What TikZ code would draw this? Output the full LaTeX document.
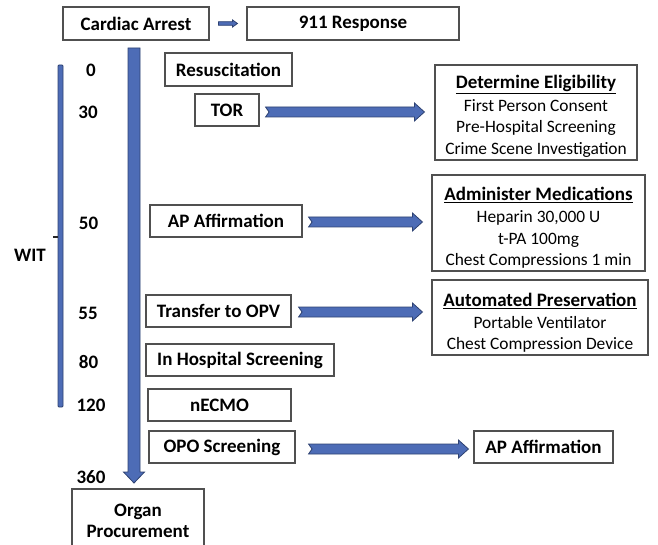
\documentclass[tikz,border=0pt]{standalone}
\usepackage{fontspec}
\setmainfont{Carlito}
\usetikzlibrary{calc}
\definecolor{arrowblue}{HTML}{4D6CB6}
\definecolor{arrowedge}{HTML}{2E4272}
\definecolor{boxedge}{HTML}{505050}
\tikzset{
  box/.style={draw=boxedge, line width=1.1pt, fill=white, inner sep=0pt,
    font=\bfseries\fontsize{19}{21}\selectfont, text=black},
  infobox/.style={draw=boxedge, line width=1.1pt, fill=white, inner sep=0pt,
    align=center, font=\fontsize{17.4}{21.3}\selectfont, text=black},
  num/.style={font=\bfseries\fontsize{19}{21}\selectfont, inner sep=0pt},
  blk/.style={fill=arrowblue, draw=arrowedge, line width=0.8pt, line join=miter}
}
% horizontal block arrow: start, end, shaft half, head half, head length, notch
\newcommand\hblock[6]{%
  \draw[blk] let \p1=#1, \p2=#2 in
   (\x1,\y1+#3) -- (\x2-#5,\y1+#3) -- (\x2-#5,\y1+#4) -- (\x2,\y1)
   -- (\x2-#5,\y1-#4) -- (\x2-#5,\y1-#3) -- (\x1,\y1-#3) -- (\x1+#6,\y1) -- cycle;}
\newcommand\ttl[2]{\rule{0pt}{#1}{\bfseries\fontsize{19}{21.3}\selectfont\underline{#2}}}
\begin{document}
\begin{tikzpicture}[x=1pt,y=-1pt]
\clip (0,0) rectangle (658,545);
\useasboundingbox (0,0) rectangle (658,545);
\fill[white] (0,0) rectangle (658,545);

% top boxes
\node[box, minimum width=146pt, minimum height=33pt] (ca) at (136,23.5) {Cardiac Arrest};
\node[box, minimum width=212pt, minimum height=33pt] (r911) at (353,23.5) {911 Response};

% timeline boxes
\node[box, minimum width=127pt, minimum height=33pt] (resus) at (228.5,69.5) {Resuscitation};
\node[box, minimum width=64pt, minimum height=32pt] (tor) at (227,110) {TOR};
\node[box, minimum width=152pt, minimum height=32pt] (apl) at (226,221) {AP Affirmation};
\node[box, minimum width=145pt, minimum height=32pt] (opv) at (218.5,311) {Transfer to OPV};
\node[box, minimum width=188pt, minimum height=32pt] (ihs) at (240,360) {In Hospital Screening};
\node[box, minimum width=143pt, minimum height=32pt] (necmo) at (219.5,405) {nECMO};
\node[box, minimum width=146pt, minimum height=32pt] (opo) at (222,447) {OPO Screening};
\node[box, minimum width=139pt, minimum height=32pt] (apr) at (543.5,447) {AP Affirmation};
\node[box, minimum width=132pt, minimum height=64pt, align=center] (organ) at (138,521) {Organ\\Procurement};

% info boxes
\node[infobox, minimum width=202pt, minimum height=95pt] (elig) at (536,112.5)
  {\ttl{21pt}{Determine Eligibility}\\[1.2pt]First Person Consent\\Pre-Hospital Screening\\Crime Scene Investigation};
\node[infobox, minimum width=213pt, minimum height=96pt] (meds) at (538.5,223)
  {\ttl{23pt}{Administer Medications}\\[0.6pt]Heparin 30,000 U\\t-PA 100mg\\Chest Compressions 1 min};
\node[infobox, minimum width=216pt, minimum height=75pt] (pres) at (540,317.5)
  {\ttl{24pt}{Automated Preservation}\\[0.6pt]Portable Ventilator\\Chest Compression Device};

% numbers
\node[num] (n0) at (91,70) {0};
\node[num] (n30) at (88,112) {30};
\node[num] (n50) at (88.5,223) {50};
\node[num] (n55) at (88,313) {55};
\node[num] (n80) at (88.5,362) {80};
\node[num] (n120) at (91,405) {120};
\node[num] (n360) at (91,477) {360};

% WIT bracket
\draw[blk, rounded corners=1pt] (58,65) rectangle (63,407);
\coordinate (tick) at (58,237);
\draw[line width=1.2pt, black!85] (tick) -- ++(-5,0);
\node[num] (wit) at (30,255) {WIT};

% small top arrow
\hblock{($(ca.east)+(9,0)$)}{($(r911.west)+(-9,0)$)}{1.8pt}{3.6pt}{5pt}{0pt}

% main vertical arrow
\coordinate (vtop) at (134,48);
\coordinate (vbot) at (134,483);
\draw[blk] let \p1=(vtop), \p2=(vbot) in
  (\x1-6pt,\y1) -- (\x1+6pt,\y1) -- (\x1+6pt,\y2+11pt) -- (\x1+10.5pt,\y2+11pt)
  -- (\x1,\y2) -- (\x1-10.5pt,\y2+11pt) -- (\x1-6pt,\y2+11pt) -- cycle;

% horizontal block arrows
\hblock{($(tor.east)+(6,2)$)}{($(elig.west)+(-10,0)$)}{5pt}{9pt}{10pt}{3.5pt}
\hblock{($(apl.east)+(6,1)$)}{($(meds.west)+(-9,0)$)}{5pt}{9pt}{10pt}{3.5pt}
\hblock{($(opv.east)+(7,1)$)}{($(pres.west)+(-9,0)$)}{5pt}{9pt}{10pt}{3.5pt}
\hblock{($(opo.east)+(13,2)$)}{($(apr.west)+(-5,0)$)}{5pt}{9pt}{10pt}{3.5pt}
\end{tikzpicture}
\end{document}
